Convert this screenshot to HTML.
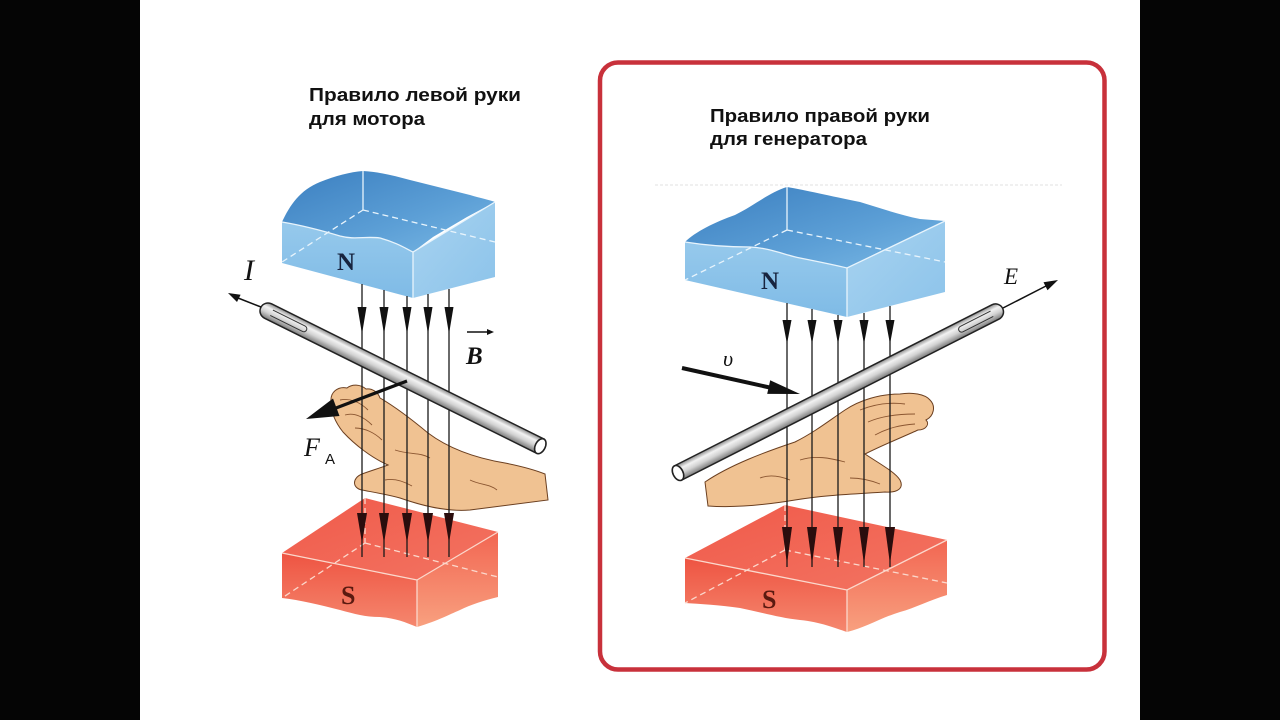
<!DOCTYPE html>
<html><head><meta charset="utf-8"><style>
html,body{margin:0;padding:0;background:#fff;}
svg{display:block;}
</style></head><body>
<svg width="1280" height="720" viewBox="0 0 1280 720" xmlns="http://www.w3.org/2000/svg">
<defs>
<linearGradient id="bTop" x1="0" y1="0" x2="1" y2="1"><stop offset="0" stop-color="#3b7fc0"/><stop offset="0.6" stop-color="#5c9fd6"/><stop offset="1" stop-color="#7ab8e4"/></linearGradient>
<linearGradient id="bFront" x1="0" y1="0" x2="0" y2="1"><stop offset="0" stop-color="#96c9ec"/><stop offset="1" stop-color="#7fbbe6"/></linearGradient>
<linearGradient id="bRight" x1="0" y1="0" x2="1" y2="1"><stop offset="0" stop-color="#a8d3f0"/><stop offset="1" stop-color="#8cc3ea"/></linearGradient>
<linearGradient id="rTop" x1="0" y1="0" x2="1" y2="1"><stop offset="0" stop-color="#f05a4a"/><stop offset="1" stop-color="#f37462"/></linearGradient>
<linearGradient id="rFront" x1="0" y1="0" x2="0" y2="1"><stop offset="0" stop-color="#ee5442"/><stop offset="1" stop-color="#f5876e"/></linearGradient>
<linearGradient id="rRight" x1="0" y1="0" x2="0" y2="1"><stop offset="0" stop-color="#f26652"/><stop offset="1" stop-color="#f8a07f"/></linearGradient>
<linearGradient id="rod" gradientUnits="userSpaceOnUse" x1="0" y1="-8" x2="0" y2="8"><stop offset="0" stop-color="#8a8a8a"/><stop offset="0.3" stop-color="#f2f2f2"/><stop offset="0.6" stop-color="#d2d2d2"/><stop offset="1" stop-color="#7a7a7a"/></linearGradient>
</defs>

<rect x="0" y="0" width="140" height="720" fill="#050505"/>
<rect x="1140" y="0" width="140" height="720" fill="#050505"/>

<!-- red frame -->
<rect x="600" y="62.5" width="504.5" height="607" rx="18" ry="18" fill="none" stroke="#c8313b" stroke-width="4.5"/>
<line x1="655" y1="185" x2="1062" y2="185" stroke="#ececec" stroke-width="1.5" stroke-dasharray="3 2"/>

<!-- titles -->
<g font-family="'Liberation Sans', sans-serif" font-weight="bold" font-size="18" fill="#111">
<text x="309" y="101" textLength="212" lengthAdjust="spacingAndGlyphs">Правило левой руки</text>
<text x="309" y="125" textLength="116" lengthAdjust="spacingAndGlyphs">для мотора</text>
<text x="710" y="122" textLength="220" lengthAdjust="spacingAndGlyphs">Правило правой руки</text>
<text x="710" y="145" textLength="157" lengthAdjust="spacingAndGlyphs">для генератора</text>
</g>

<!-- ============ LEFT DIAGRAM ============ -->
<path d="M282,222 C290,205 300,190 320,182 C335,176 350,172 363,171 C380,172 395,176 410,180 C430,185 450,190 470,195 C480,198 490,200 495,202 L467,217 L433,237 L413,252 C405,248 395,242 380,238 C365,236 355,240 340,236 C320,230 300,225 282,222 Z" fill="url(#bTop)"/>
<path d="M282,222 C300,225 320,230 340,236 C355,240 365,236 380,238 C395,242 405,248 413,252 L413,298 L282,263 Z" fill="url(#bFront)"/>
<path d="M413,252 L495,202 L495,277 L413,298 Z" fill="url(#bRight)"/>
<g stroke="#e8f4fc" stroke-width="1.3" fill="none">
<path d="M282,222 C300,225 320,230 340,236 C355,240 365,236 380,238 C395,242 405,248 413,252 L495,202"/>
<line x1="413" y1="252" x2="413" y2="298"/>
<line x1="363" y1="171" x2="363" y2="210"/>
<path d="M363,210 L282,262 M363,210 L495,242" stroke-dasharray="6 4"/>
</g>
<text x="337" y="270" font-family="'Liberation Serif', serif" font-weight="bold" font-size="25" fill="#17243f">N</text>

<path d="M282,553 L365,498 L498,532 L417,580 Z" fill="url(#rTop)"/>
<path d="M282,553 L417,580 L417,627 C405,622 395,618 380,617 C365,617 355,614 340,610 C320,605 300,600 282,598 Z" fill="url(#rFront)"/>
<path d="M417,580 L498,532 L498,597 C485,600 470,605 460,610 C448,615 440,620 417,627 Z" fill="url(#rRight)"/>
<g stroke="#fbd8cc" stroke-width="1.3" fill="none">
<path d="M282,553 L417,580 L498,532"/>
<line x1="417" y1="580" x2="417" y2="627"/>
<line x1="365" y1="498" x2="365" y2="543" stroke-dasharray="6 4"/>
<path d="M365,543 L282,598 M365,543 L498,577" stroke-dasharray="6 4"/>
</g>
<text x="341" y="604" font-family="'Liberation Serif', serif" font-weight="bold" font-size="26" fill="#5a1a10">S</text>

<!-- left hand -->
<path d="M331,402 C330,392 338,386 347,388 C352,384 360,384 366,389 C372,388 378,392 380,398 C392,405 410,418 428,433 C448,448 475,458 505,463 C520,466 535,470 545,474 L548,500 C525,503 500,506 470,510 C445,512 420,505 400,498 C385,494 372,492 362,490 C352,488 352,478 362,474 C370,471 380,468 388,465 C372,458 355,445 343,432 C335,422 331,412 331,402 Z" fill="#f0c292" stroke="#6b3f20" stroke-width="1"/>
<g stroke="#8a5530" stroke-width="0.9" fill="none">
<path d="M340,400 C350,398 360,402 368,410"/>
<path d="M345,415 C355,412 365,418 372,425"/>
<path d="M355,428 C365,428 375,433 382,440"/>
<path d="M395,450 C410,455 420,452 430,458"/>
<path d="M470,480 C480,485 490,484 497,490"/>
<path d="M385,480 C395,478 405,482 412,486"/>
</g>

<g stroke="#1a1a1a" stroke-width="1.3">
<line x1="362" y1="284" x2="362" y2="557"/>
<line x1="384" y1="290" x2="384" y2="557"/>
<line x1="407" y1="296" x2="407" y2="557"/>
<line x1="428" y1="294" x2="428" y2="557"/>
<line x1="449" y1="289" x2="449" y2="557"/>
</g>
<g fill="#111">
<polygon points="357.5,307 366.5,307 362,334"/>
<polygon points="379.5,307 388.5,307 384,334"/>
<polygon points="402.5,307 411.5,307 407,334"/>
<polygon points="423.5,307 432.5,307 428,334"/>
<polygon points="444.5,307 453.5,307 449,334"/>
</g>
<g fill="#2a0d0d">
<polygon points="357,513 367,513 362,543"/>
<polygon points="379,513 389,513 384,543"/>
<polygon points="402,513 412,513 407,543"/>
<polygon points="423,513 433,513 428,543"/>
<polygon points="444,513 454,513 449,543"/>
</g>

<!-- left rod -->
<g transform="translate(268,311) rotate(26.4)">
<path d="M0,-8 L304,-8 L304,8 L0,8 A8,8 0 0 1 0,-8 Z" fill="url(#rod)" stroke="#222" stroke-width="1.5"/>
<path d="M4,-3 L40,-3 A3,3 0 0 1 40,3 L4,3" fill="none" stroke="#333" stroke-width="1"/>
<ellipse cx="304" cy="0" rx="5" ry="8" fill="#fff" stroke="#222" stroke-width="1.6"/>
</g>

<line x1="261" y1="307" x2="238" y2="298" stroke="#111" stroke-width="1.5"/>
<polygon points="228,293 237,302 240.6,294.7" fill="#111"/>
<text x="244" y="280" font-family="'Liberation Serif', serif" font-style="italic" font-size="30" fill="#111">I</text>

<text x="466" y="364" font-family="'Liberation Serif', serif" font-style="italic" font-weight="bold" font-size="25" fill="#111">B</text>
<line x1="467" y1="332" x2="490" y2="332" stroke="#111" stroke-width="1.4"/>
<polygon points="494,332 487,329 487,335" fill="#111"/>

<line x1="407" y1="381" x2="336" y2="408" stroke="#111" stroke-width="3.2"/>
<polygon points="306,419 339.5,416 333,398.5" fill="#111"/>
<text x="304" y="456" font-family="'Liberation Serif', serif" font-style="italic" font-size="26" fill="#111">F</text>
<text x="325" y="464" font-family="'Liberation Sans', sans-serif" font-size="15" fill="#111">A</text>

<!-- ============ RIGHT DIAGRAM ============ -->
<path d="M685,242 C695,232 715,222 735,215 C755,205 770,192 787,187 C805,190 830,196 860,202 C880,208 900,215 920,219 L945,221 L917,235 L883,250 L847,268 C835,265 820,262 800,258 C785,255 770,248 750,247 C730,247 710,246 685,242 Z" fill="url(#bTop)"/>
<path d="M685,242 C710,246 730,247 750,247 C770,248 785,255 800,258 C820,262 835,265 847,268 L847,317 L685,280 Z" fill="url(#bFront)"/>
<path d="M847,268 L945,221 L945,292 L847,317 Z" fill="url(#bRight)"/>
<g stroke="#e8f4fc" stroke-width="1.3" fill="none">
<path d="M685,242 C710,246 730,247 750,247 C770,248 785,255 800,258 C820,262 835,265 847,268 L945,221"/>
<line x1="847" y1="268" x2="847" y2="317"/>
<line x1="787" y1="187" x2="787" y2="230"/>
<path d="M787,230 L685,280 M787,230 L945,262" stroke-dasharray="6 4"/>
</g>
<text x="761" y="289" font-family="'Liberation Serif', serif" font-weight="bold" font-size="25" fill="#17243f">N</text>

<path d="M685,558 L785,505 L947,540 L847,590 Z" fill="url(#rTop)"/>
<path d="M685,558 L847,590 L847,632 C835,628 820,622 800,620 C780,618 760,612 740,608 C720,605 700,604 685,603 Z" fill="url(#rFront)"/>
<path d="M847,590 L947,540 L947,595 C930,600 915,608 900,612 C880,618 865,628 847,632 Z" fill="url(#rRight)"/>
<g stroke="#fbd8cc" stroke-width="1.3" fill="none">
<path d="M685,558 L847,590 L947,540"/>
<line x1="847" y1="590" x2="847" y2="632"/>
<line x1="785" y1="505" x2="785" y2="550" stroke-dasharray="6 4"/>
<path d="M785,550 L685,603 M785,550 L947,583" stroke-dasharray="6 4"/>
</g>
<text x="762" y="608" font-family="'Liberation Serif', serif" font-weight="bold" font-size="26" fill="#5a1a10">S</text>

<path d="M705,482 C730,465 765,452 795,442 C815,432 830,420 845,410 C860,400 880,394 900,394 C912,392 925,394 930,400 C936,406 934,416 926,420 C930,424 926,430 918,430 C905,436 885,444 865,454 C880,464 895,472 900,480 C904,488 898,493 885,492 C855,494 825,495 795,500 C765,505 735,508 708,506 Z" fill="#f0c292" stroke="#6b3f20" stroke-width="1"/>
<g stroke="#8a5530" stroke-width="0.9" fill="none">
<path d="M860,410 C875,404 890,402 905,404"/>
<path d="M868,422 C882,416 898,414 915,414"/>
<path d="M875,435 C888,428 900,425 915,424"/>
<path d="M800,460 C815,455 830,458 845,462"/>
<path d="M760,478 C770,474 780,476 790,480"/>
<path d="M850,478 C860,478 870,480 880,484"/>
</g>

<g stroke="#1a1a1a" stroke-width="1.3">
<line x1="787" y1="303" x2="787" y2="567"/>
<line x1="812" y1="309" x2="812" y2="567"/>
<line x1="838" y1="315" x2="838" y2="567"/>
<line x1="864" y1="313" x2="864" y2="567"/>
<line x1="890" y1="306" x2="890" y2="567"/>
</g>
<g fill="#111">
<polygon points="782.5,320 791.5,320 787,344"/>
<polygon points="807.5,320 816.5,320 812,344"/>
<polygon points="833.5,320 842.5,320 838,344"/>
<polygon points="859.5,320 868.5,320 864,344"/>
<polygon points="885.5,320 894.5,320 890,344"/>
</g>
<g fill="#2a0d0d">
<polygon points="782,527 792,527 787,564"/>
<polygon points="807,527 817,527 812,564"/>
<polygon points="833,527 843,527 838,564"/>
<polygon points="859,527 869,527 864,564"/>
<polygon points="885,527 895,527 890,564"/>
</g>

<line x1="682" y1="368" x2="772" y2="388" stroke="#111" stroke-width="4"/>
<polygon points="800,394 767.2,393.9 770.2,380.3" fill="#111"/>
<text x="723" y="366" font-family="'Liberation Serif', serif" font-style="italic" font-size="22" fill="#111">υ</text>

<g transform="translate(678,473) rotate(-26.9)">
<path d="M0,-8 L356,-8 A8,8 0 0 1 356,8 L0,8 Z" fill="url(#rod)" stroke="#222" stroke-width="1.5"/>
<path d="M352,-3 L318,-3 A3,3 0 0 0 318,3 L352,3" fill="none" stroke="#333" stroke-width="1"/>
<ellipse cx="0" cy="0" rx="5" ry="8" fill="#fff" stroke="#222" stroke-width="1.6"/>
</g>

<line x1="1003" y1="308" x2="1046" y2="286" stroke="#111" stroke-width="1.5"/>
<polygon points="1058,280 1047.5,290.3 1043.5,282.3" fill="#111"/>
<text x="1004" y="284" font-family="'Liberation Serif', serif" font-style="italic" font-size="23" fill="#111">E</text>
</svg>
</body></html>
